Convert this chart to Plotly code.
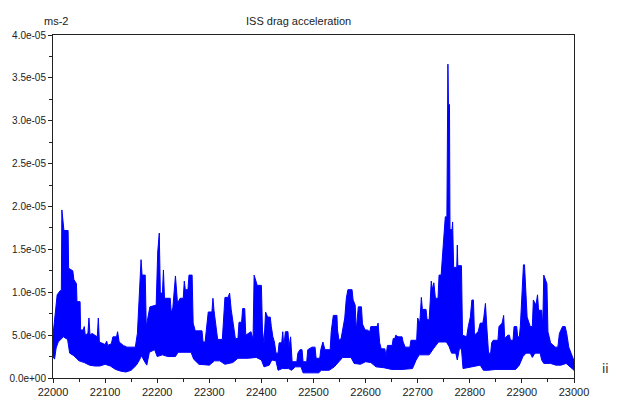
import plotly.graph_objects as go

# ISS drag acceleration, ii = 22000 .. 23000
# upper / lower edge of the (very dense) signal band, values in m/s^2 * 1e-6
upper_ii = [22000, 22002, 22005, 22008, 22014, 22016, 22017, 22019, 22021, 22029,
            22030, 22038, 22040, 22045, 22046, 22052, 22053, 22058, 22060, 22062,
            22067, 22069, 22071, 22075, 22085, 22087, 22089, 22100, 22103, 22105,
            22112, 22115, 22122, 22124, 22127, 22135, 22142, 22158, 22162, 22165,
            22169, 22171, 22177, 22179, 22186, 22198, 22201, 22204, 22206, 22210,
            22212, 22214, 22225, 22227, 22230, 22235, 22239, 22244, 22250, 22252,
            22254, 22259, 22261, 22267, 22269, 22273, 22286, 22288, 22292, 22294,
            22298, 22305, 22307, 22309, 22313, 22316, 22325, 22327, 22330, 22336,
            22339, 22342, 22346, 22350, 22355, 22357, 22362, 22364, 22368, 22370,
            22380, 22384, 22386, 22392, 22400, 22402, 22405, 22408, 22412, 22417,
            22419, 22422, 22425, 22428, 22432, 22434, 22439, 22441, 22443, 22446,
            22451, 22453, 22456, 22459, 22468, 22470, 22474, 22478, 22480, 22487,
            22489, 22497, 22503, 22505, 22512, 22514, 22518, 22522, 22532, 22534,
            22538, 22545, 22546, 22549, 22553, 22556, 22560, 22563, 22566, 22574,
            22576, 22580, 22582, 22586, 22592, 22594, 22599, 22603, 22608, 22610,
            22622, 22624, 22627, 22630, 22637, 22639, 22642, 22651, 22653, 22656,
            22658, 22662, 22670, 22672, 22676, 22685, 22687, 22698, 22700, 22704,
            22707, 22709, 22716, 22718, 22722, 22724, 22726, 22728, 22731, 22734,
            22739, 22741, 22745, 22748, 22753, 22756, 22757, 22758, 22759, 22761,
            22762, 22766, 22767, 22769, 22775, 22776, 22777, 22784, 22786, 22794,
            22797, 22801, 22804, 22807, 22809, 22816, 22820, 22825, 22827, 22830,
            22833, 22836, 22840, 22842, 22845, 22854, 22856, 22862, 22865, 22867,
            22873, 22876, 22878, 22883, 22885, 22890, 22892, 22895, 22897, 22900,
            22903, 22905, 22907, 22910, 22916, 22920, 22922, 22927, 22930, 22932,
            22938, 22940, 22942, 22945, 22948, 22950, 22955, 22964, 22969, 22972,
            22978, 22983, 22986, 22990, 22996, 23000]
upper_val = [5.0, 6.4, 8.3, 9.7, 10.2, 10.2, 19.6, 18.5, 17.2, 17.2,
             12.8, 12.5, 11.5, 11.0, 8.9, 8.9, 5.6, 5.6, 6.0, 5.0,
             5.2, 7.0, 5.0, 5.2, 4.8, 7.0, 4.2, 3.9, 4.3, 3.8,
             4.0, 4.8, 4.8, 5.4, 4.2, 3.8, 3.6, 3.6, 5.2, 8.9,
             13.8, 12.0, 12.0, 6.0, 8.3, 8.5, 14.7, 16.9, 9.9, 9.9,
             12.6, 9.3, 9.3, 7.6, 8.2, 11.9, 8.7, 9.3, 9.3, 11.3,
             10.3, 10.3, 12.0, 12.0, 6.4, 5.5, 5.5, 4.2, 4.2, 5.4,
             7.7, 7.7, 9.3, 7.9, 6.0, 4.5, 4.5, 7.1, 9.4, 9.4,
             9.9, 8.0, 6.5, 4.6, 4.6, 6.5, 6.5, 8.1, 8.1, 5.0,
             5.4, 4.5, 12.0, 10.8, 10.8, 5.6, 4.0, 7.7, 7.1, 7.1,
             6.0, 4.8, 4.2, 2.9, 2.9, 4.1, 4.1, 5.4, 3.6, 5.4,
             5.4, 3.6, 4.8, 1.9, 1.9, 2.9, 3.3, 3.3, 1.9, 1.9,
             3.3, 3.6, 3.6, 2.3, 2.3, 3.3, 4.2, 3.3, 3.3, 5.4,
             7.3, 7.3, 5.6, 4.4, 4.6, 5.6, 7.0, 9.3, 10.3, 10.3,
             9.1, 8.5, 5.5, 8.3, 8.3, 6.3, 5.6, 5.6, 5.4, 6.0,
             6.0, 6.4, 4.1, 3.4, 3.4, 2.5, 3.8, 3.8, 4.6, 4.6,
             5.0, 4.8, 4.8, 4.2, 3.6, 3.6, 4.4, 4.4, 7.0, 6.4,
             9.4, 8.0, 8.0, 6.8, 6.8, 8.9, 11.3, 10.3, 11.1, 9.3,
             9.3, 12.0, 12.0, 14.6, 18.8, 18.8, 36.6, 36.6, 31.9, 31.9,
             17.3, 17.3, 18.2, 12.9, 12.9, 15.5, 13.1, 13.1, 5.0, 4.8,
             6.0, 7.1, 9.1, 9.1, 5.0, 5.4, 6.4, 6.4, 7.1, 8.7,
             5.6, 2.9, 2.9, 4.1, 4.4, 4.4, 6.0, 6.4, 7.3, 4.6,
             5.0, 5.0, 4.4, 4.4, 6.0, 6.0, 4.8, 4.8, 6.0, 9.7,
             13.2, 13.2, 10.3, 7.1, 6.0, 6.0, 9.1, 8.5, 9.7, 7.9,
             7.9, 6.0, 12.0, 11.4, 11.0, 5.4, 4.1, 3.6, 3.6, 5.2,
             6.0, 6.0, 5.2, 3.6, 2.5, 2.0]

lower_ii = [22000, 22003, 22006, 22010, 22020, 22028, 22032, 22040, 22050, 22060,
            22070, 22080, 22090, 22100, 22110, 22120, 22130, 22140, 22150, 22160,
            22165, 22170, 22175, 22180, 22185, 22195, 22200, 22210, 22220, 22235,
            22240, 22265, 22270, 22280, 22300, 22310, 22320, 22330, 22345, 22355,
            22375, 22390, 22400, 22405, 22415, 22420, 22428, 22432, 22440, 22452,
            22458, 22465, 22476, 22480, 22510, 22515, 22530, 22540, 22548, 22556,
            22572, 22578, 22590, 22600, 22610, 22620, 22635, 22650, 22670, 22690,
            22697, 22703, 22722, 22730, 22740, 22755, 22760, 22765, 22773, 22776,
            22780, 22784, 22787, 22800, 22820, 22826, 22835, 22850, 22888, 22895,
            22902, 22908, 22916, 22920, 22925, 22935, 22938, 22942, 22955, 22965,
            22975, 22985, 22995, 23000]
lower_val = [2.5, 2.2, 3.5, 4.2, 4.8, 4.5, 2.9, 2.6, 2.0, 1.8,
             1.5, 1.4, 1.4, 1.6, 1.4, 1.0, 0.8, 0.7, 0.9, 1.5,
             2.0, 2.6, 2.0, 1.5, 3.0, 3.3, 2.5, 2.7, 2.5, 2.5,
             3.0, 3.0, 2.2, 1.6, 1.5, 2.0, 2.0, 1.6, 1.8, 2.3,
             2.3, 2.4, 2.1, 1.3, 1.5, 2.1, 2.0, 0.9, 1.1, 1.1,
             0.9, 1.3, 1.3, 0.6, 0.6, 0.9, 0.9, 1.3, 1.8, 2.4,
             2.4, 1.7, 1.6, 1.9, 1.8, 1.3, 1.2, 1.0, 1.0, 1.1,
             2.1, 2.7, 2.7, 3.4, 4.2, 4.2, 3.7, 2.9, 2.9, 2.1,
             3.4, 3.4, 1.1, 1.3, 1.5, 0.9, 0.9, 1.0, 1.0, 1.5,
             2.5, 2.9, 2.9, 2.4, 2.9, 2.9, 2.1, 1.7, 1.7, 1.5,
             1.5, 1.7, 1.2, 0.9]

y_tickvals = [0, 5e-06, 1e-05, 1.5e-05, 2e-05, 2.5e-05, 3e-05, 3.5e-05, 4e-05]
y_ticktext = ["0.0e+00", "5.0e-06", "1.0e-05", "1.5e-05", "2.0e-05",
              "2.5e-05", "3.0e-05", "3.5e-05", "4.0e-05"]
x_tickvals = [22000, 22100, 22200, 22300, 22400, 22500, 22600, 22700, 22800, 22900, 23000]
x_ticktext = ["22000", "22100", "22200", "22300", "22400", "22500",
              "22600", "22700", "22800", "22900", "23000"]

# band outline: upper edge left->right, lower edge back right->left
band_x = upper_ii + lower_ii[::-1]
band_y = [v * 1e-06 for v in upper_val + lower_val[::-1]]

fig = go.Figure()
fig.add_trace(go.Scatter(x=band_x, y=band_y, mode="lines", fill="toself",
                         fillcolor="#0000ff", line=dict(color="#0000ff", width=1),
                         showlegend=False, hoverinfo="skip"))

axis_style = dict(showline=True, mirror=True, linecolor="#222", linewidth=1,
                  ticks="outside", ticklen=4, tickcolor="#222",
                  showgrid=False, zeroline=False, automargin=False)

fig.update_xaxes(range=[22000, 23000], tickmode="array", tickvals=x_tickvals, ticktext=x_ticktext,
                 tickfont=dict(family="Liberation Sans Narrow, Arial", size=11, color="#222"),
                 minor=dict(ticks="outside", dtick=50, tick0=22000, ticklen=3, tickcolor="#222"),
                 **axis_style)
fig.update_yaxes(range=[0, 4e-05], tickmode="array", tickvals=y_tickvals, ticktext=y_ticktext,
                 tickfont=dict(family="Liberation Sans, Arial", size=10, color="#222"),
                 minor=dict(ticks="outside", dtick=2.5e-06, tick0=0, ticklen=3, tickcolor="#222"),
                 **axis_style)

# page body has an 8px margin, so the figure is 8px smaller than the window
lab = dict(family="Liberation Sans, Arial", size=11, color="#222")
fig.update_layout(
    width=611, height=390,
    margin=dict(l=45, r=45, t=27, b=20, autoexpand=False),
    plot_bgcolor="white", paper_bgcolor="white",
    annotations=[
        dict(text="ms-2", xref="paper", yref="paper", x=-0.022, y=1.065,
             showarrow=False, font=lab),
        dict(text="ISS drag acceleration", xref="paper", yref="paper", x=0.472, y=1.065,
             showarrow=False, font=lab),
        dict(text="ii", xref="paper", yref="paper", x=1.071, y=0.0, xanchor="right",
             showarrow=False, font=dict(family="DejaVu Sans, Arial", size=12, color="#222")),
    ],
)

fig.write_html("out.html")
